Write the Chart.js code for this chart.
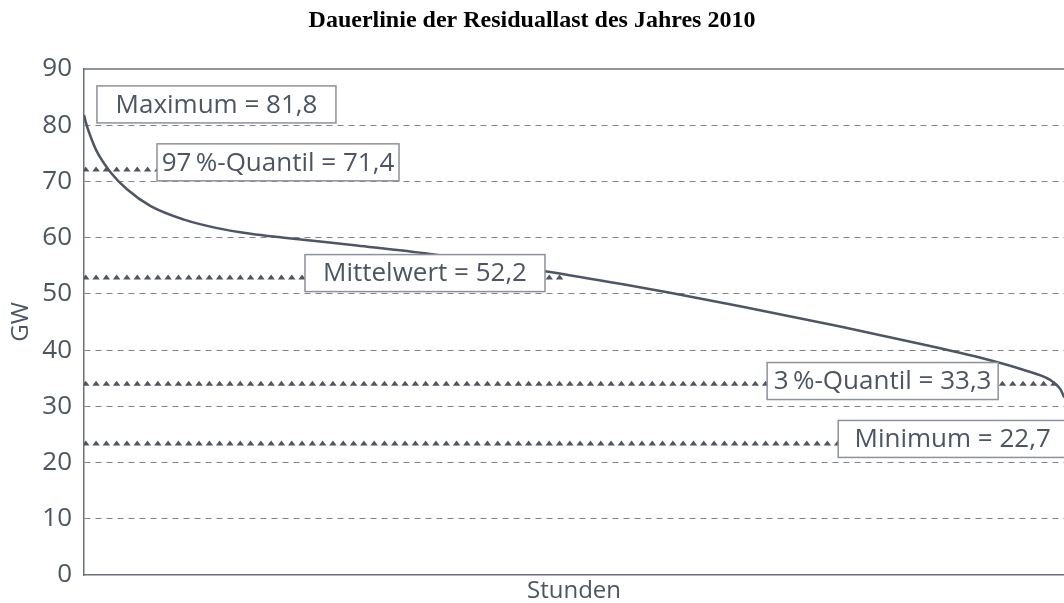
<!DOCTYPE html>
<html>
<head>
<meta charset="utf-8">
<script src="https://cdn.jsdelivr.net/npm/chart.js@4.4.0/dist/chart.umd.min.js"></script>
<style>
  html, body { margin: 0; padding: 0; background: #fff; overflow: hidden; }
  #wrap { width: 1064px; height: 603px; position: relative; }
</style>
</head>
<body>
<div id="wrap"><canvas id="chart" width="1064" height="603"></canvas></div>
<script>
// load duration curve: hours of the year sorted by residual load (GW)
const hours = [0, 15, 50, 113, 233, 375, 582, 873, 1161, 1454, 1745, 2380, 3019,
  4037, 4703, 5113, 5724, 6597, 7321, 7906, 8194, 8429, 8517, 8552, 8650, 8720, 8760];
const load = [81.8, 80.6, 78.4, 75.3, 71.6, 68.6, 65.6, 63.2, 61.7, 60.7, 60.0, 58.6, 57.1,
  54.0, 51.7, 50.2, 47.8, 44.2, 41.0, 38.2, 36.5, 34.7, 33.1, 31.6, 28.0, 25.5, 22.7];

const yTicks = [0, 10, 20, 30, 40, 50, 60, 70, 80, 90];

const statNames = ['Maximum', '97\u2009%-Quantil', 'Mittelwert', '3\u2009%-Quantil', 'Minimum'];
const statValues = [81.8, 71.4, 52.2, 33.3, 22.7];

// where each triangle row stops (hours), and where each label box sits (left hour, centre GW, width px)
const markerEnd = [null, 700, 4150, 8450, 8760];
const boxAnchor = [[113, 83.7, 239], [637, 73.4, 242], [1928, 53.7, 240], [5960, 34.5, 231], [6580, 24.2, 229]];

const textColor = '#4d5562';
const gridColor = '#80858d';
const axisColor = '#6b707a';

const fmt = v => v.toFixed(1).replace('.', ',');

const statsPlugin = {
  id: 'stats',
  beforeDatasetsDraw(chart) {
    const { ctx, chartArea: a, scales: { x, y } } = chart;
    ctx.save();
    ctx.beginPath();
    ctx.rect(a.left, a.top, a.right - a.left, a.bottom - a.top);
    ctx.clip();
    ctx.fillStyle = '#50565f';
    statValues.forEach((v, i) => {
      if (markerEnd[i] === null) return;
      const py = y.getPixelForValue(v) - 2;
      const end = x.getPixelForValue(markerEnd[i]);
      for (let px = a.left - 2; px < end; px += 10.3) {
        ctx.beginPath();
        ctx.moveTo(px, py);
        ctx.lineTo(px + 7.5, py);
        ctx.lineTo(px + 3.75, py - 5);
        ctx.closePath();
        ctx.fill();
      }
    });
    ctx.restore();
  },
  afterDatasetsDraw(chart) {
    const { ctx, chartArea: a, scales: { x, y } } = chart;
    ctx.save();
    // solid top frame line
    ctx.strokeStyle = axisColor;
    ctx.lineWidth = 1.5;
    ctx.beginPath();
    ctx.moveTo(a.left, a.top);
    ctx.lineTo(a.right, a.top);
    ctx.stroke();

    ctx.font = '26px "Open Sans"';
    ctx.textBaseline = 'middle';
    ctx.textAlign = 'center';
    statNames.forEach((name, i) => {
      const txt = name + ' = ' + fmt(statValues[i]);
      const [hx, gy, w] = boxAnchor[i];
      const h = 37;
      const left = x.getPixelForValue(hx);
      const cy = y.getPixelForValue(gy);
      ctx.fillStyle = '#fff';
      ctx.fillRect(left, cy - h / 2, w, h);
      ctx.strokeStyle = '#8d9199';
      ctx.lineWidth = 1.5;
      ctx.strokeRect(left, cy - h / 2, w, h);
      ctx.fillStyle = textColor;
      ctx.fillText(txt, left + w / 2, cy + 1);
    });

    ctx.fillStyle = '#000';
    ctx.font = 'bold 24px "Liberation Serif"';
    ctx.fillText('Dauerlinie der Residuallast des Jahres 2010', 532, 21);
    ctx.restore();
  }
};

new Chart(document.getElementById('chart'), {
  type: 'line',
  data: {
    datasets: [{
      data: hours.map((h, i) => ({ x: h, y: load[i] })),
      borderColor: '#4f5663',
      borderWidth: 2.5,
      pointRadius: 0,
      fill: false,
      cubicInterpolationMode: 'monotone'
    }]
  },
  options: {
    responsive: false,
    animation: false,
    layout: { padding: { top: 69, left: 0, right: 0, bottom: 0 } },
    plugins: { legend: { display: false }, tooltip: { enabled: false }, title: { display: false } },
    scales: {
      x: {
        type: 'linear',
        min: 0,
        max: 8550,
        ticks: { display: false },
        grid: { display: false, drawTicks: false },
        border: { display: true, color: axisColor, width: 1.5 },
        title: {
          display: true, text: 'Stunden', color: textColor,
          font: { family: 'Open Sans', size: 24, lineHeight: 1 }, padding: 0
        },
        afterFit: s => { s.height = 28; }
      },
      y: {
        min: 0,
        max: 90,
        afterBuildTicks: s => { s.ticks = yTicks.map(v => ({ value: v })); },
        ticks: { color: textColor, font: { family: 'Open Sans', size: 26 }, padding: 12 },
        grid: {
          drawTicks: false,
          lineWidth: 1,
          color: c => (c.tick && (c.tick.value === 0 || c.tick.value === 90)) ? 'rgba(0,0,0,0)' : gridColor
        },
        border: { display: true, color: axisColor, width: 1.5, dash: [6, 5] },
        title: {
          display: true, text: 'GW', color: textColor,
          font: { family: 'Open Sans', size: 24, lineHeight: 1 }, padding: { top: 9, bottom: 0 }
        },
        afterFit: s => { s.width = 84; }
      }
    }
  },
  plugins: [statsPlugin]
});
</script>
</body>
</html>
